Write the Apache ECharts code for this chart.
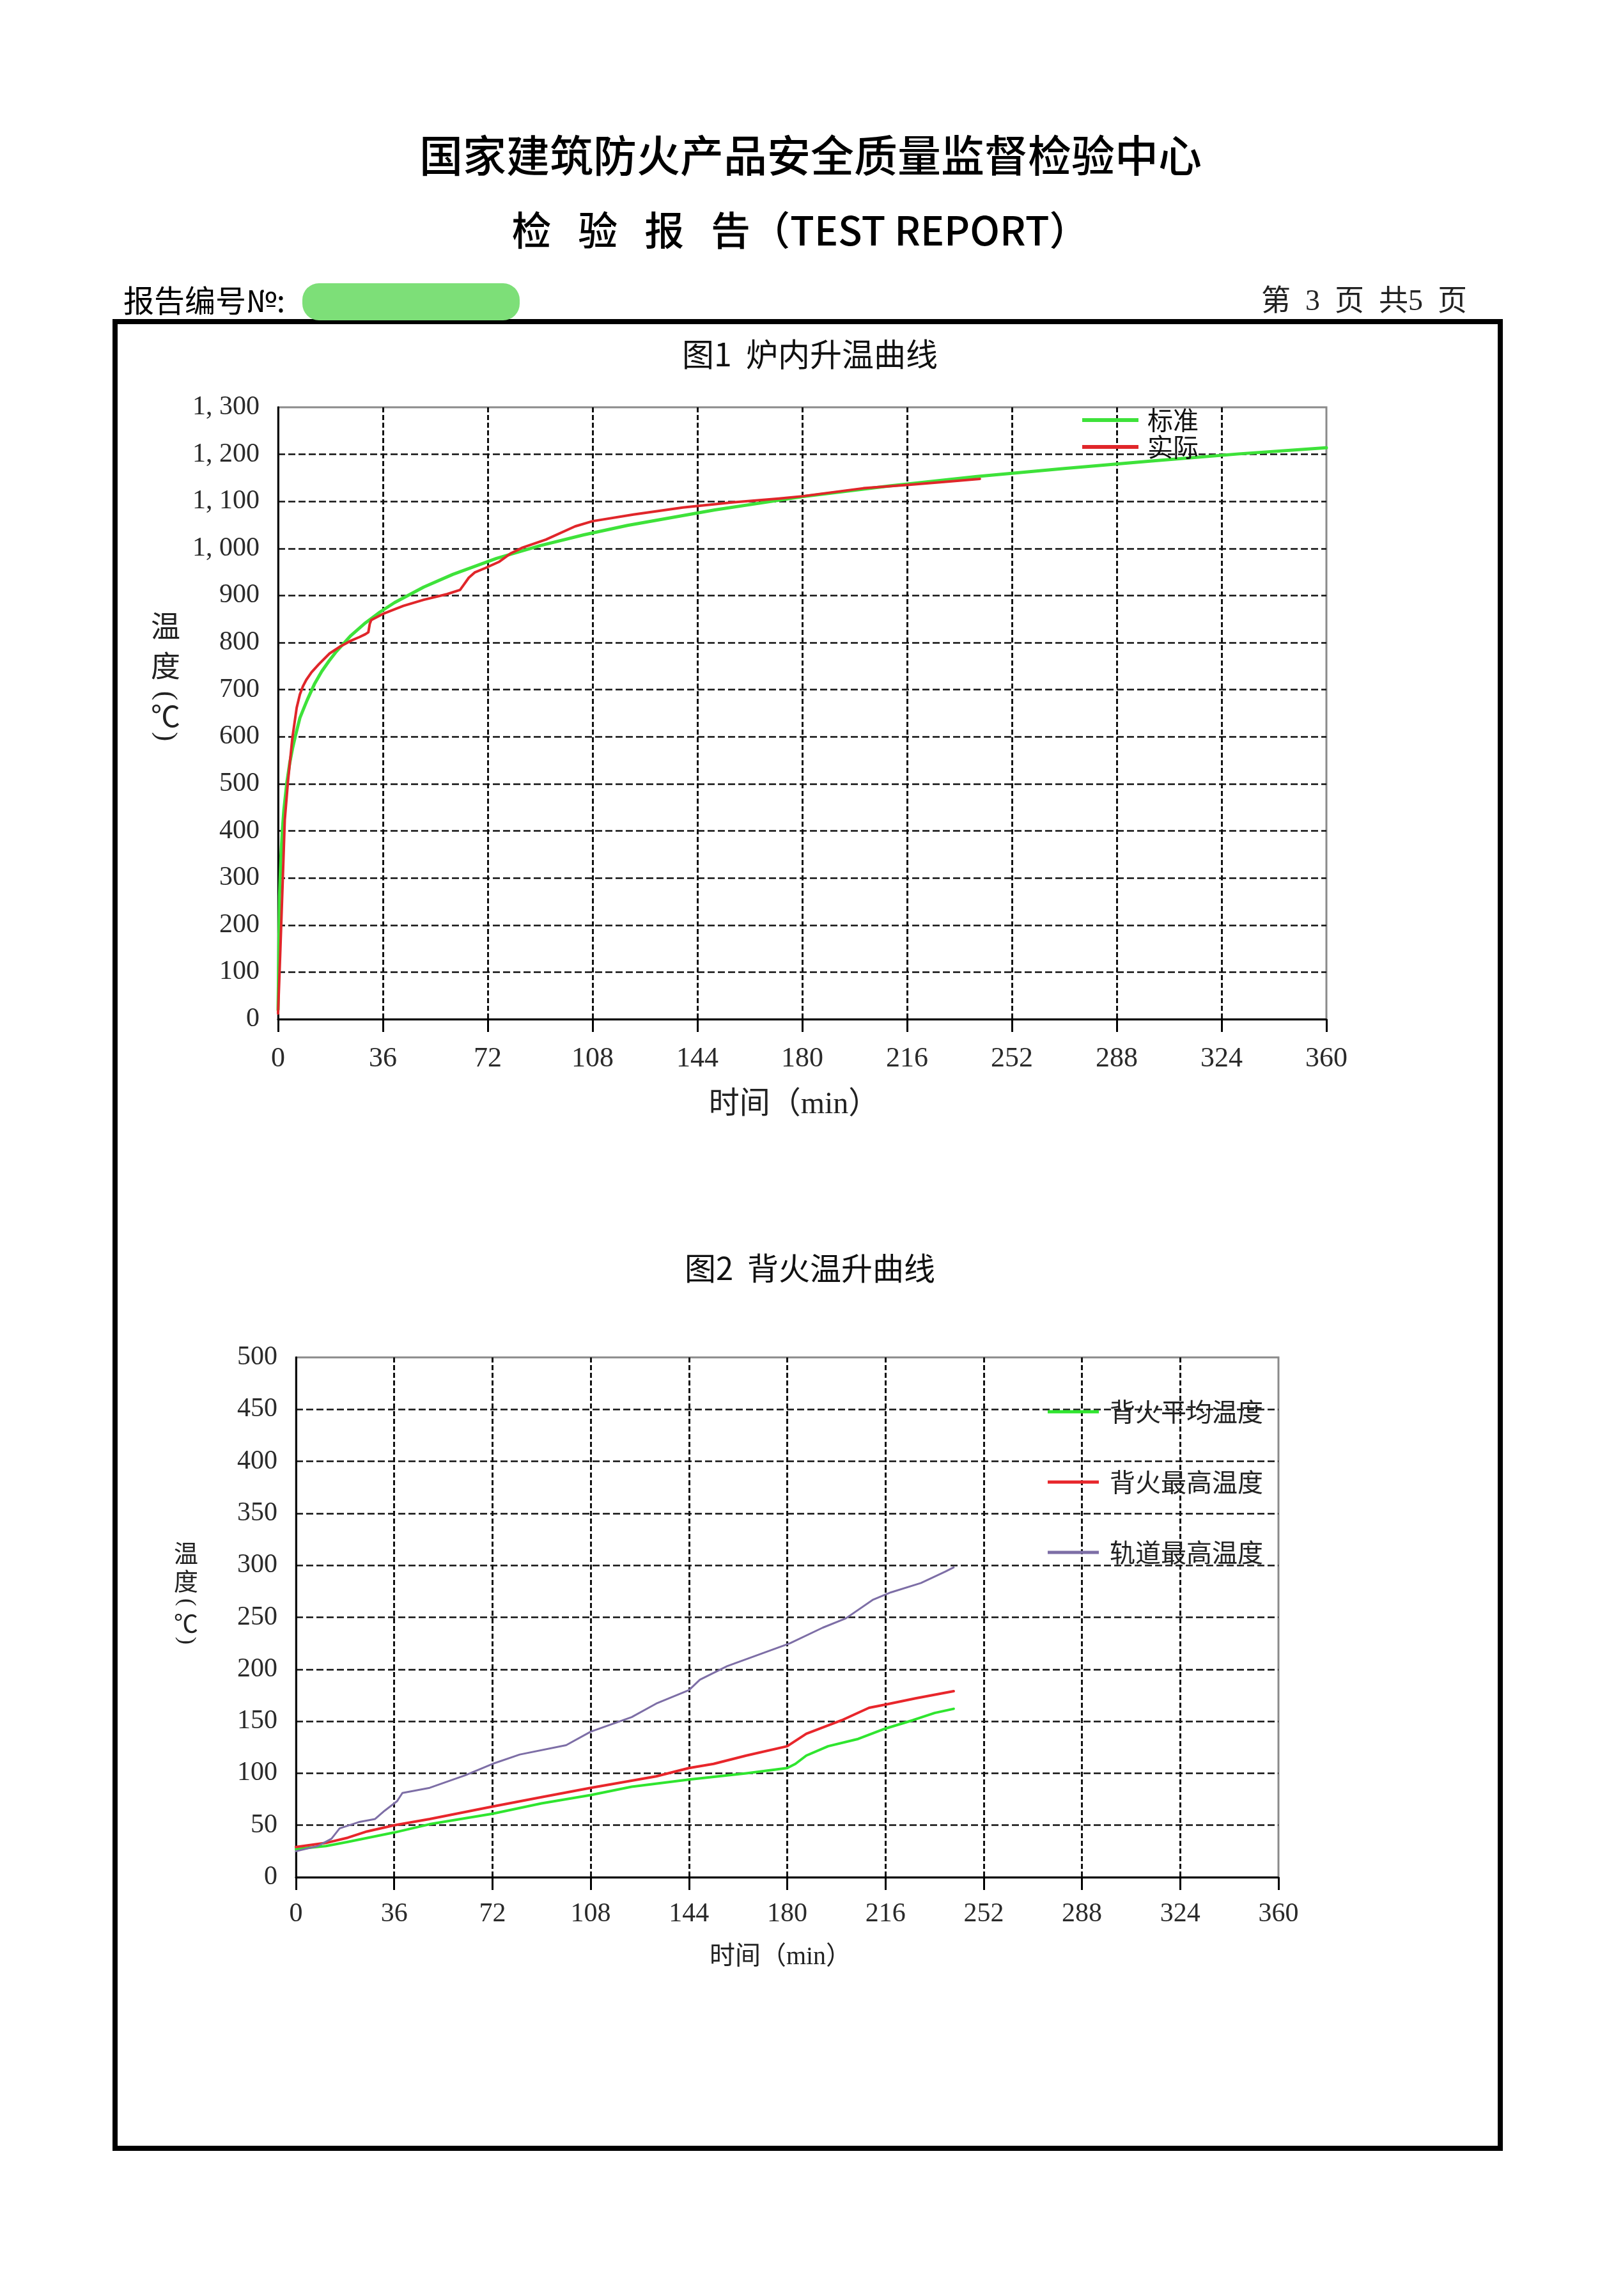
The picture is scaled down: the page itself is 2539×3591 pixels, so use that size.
<!DOCTYPE html>
<html><head><meta charset="utf-8">
<script src="https://cdn.jsdelivr.net/npm/echarts@6/dist/echarts.min.js"></script>
<style>html,body{margin:0;padding:0;background:#fff}#c{width:2539px;height:3591px}</style>
</head><body><div id="c"></div>
<script>
// ---------- Figure 1: furnace temperature (min, °C) ----------
const fig1StdTime = [0, 0.5, 1, 1.5, 2, 3, 4, 5, 6, 7.5, 9, 10, 12.5, 15, 17.5, 20, 25, 30, 35, 40, 50, 60, 75, 90, 105, 120, 150, 180, 210, 240, 270, 300, 330, 360];
const fig1StdTemp = [20, 261, 349, 404, 445, 502, 544, 576, 603, 640, 663, 678, 712, 739, 761, 781, 815, 842, 865, 885, 918, 945, 979, 1006, 1029, 1049, 1082, 1110, 1133, 1153, 1170, 1186, 1201, 1214];
const fig1ActTime = [0, 0.8, 1.6, 2.3, 3.4, 4.9, 6.4, 7.5, 8.6, 9.7, 11.5, 14, 17.7, 21.4, 25, 28, 30, 31, 31.5, 32, 36, 43, 50, 58, 62.5, 64, 65.5, 67.5, 71, 76, 80, 84, 92, 102, 108, 122, 139, 156, 172, 180, 201, 216, 230, 241];
const fig1ActTemp = [12, 150, 294, 423, 505, 597, 662, 690, 708, 721, 737, 754, 777, 792, 804, 812, 818, 822, 840, 848, 861, 878, 891, 903, 912, 925, 938, 949, 958, 972, 990, 1002, 1019, 1047, 1058, 1072, 1087, 1098, 1106, 1111, 1128, 1135, 1142, 1148];
const fig1Names = ['标准', '实际'];

// ---------- Figure 2: unexposed-side temperature (min, °C) ----------
const fig2AvgTime = [0, 11, 19, 36, 49, 72, 90, 108, 123, 144, 165, 180, 183, 187, 195, 206, 216, 226, 234, 241];
const fig2AvgTemp = [27, 30, 34, 43, 51, 61, 71, 79, 87, 94, 100, 105, 109, 117, 126, 133, 143, 151, 158, 162];
const fig2MaxTime = [0, 11, 19, 26, 36, 49, 72, 90, 108, 132, 144, 153, 165, 180, 187, 200, 210, 216, 227, 241];
const fig2MaxTemp = [29, 33, 38, 44, 50, 56, 68, 77, 86, 97, 105, 109, 117, 126, 138, 151, 163, 166, 172, 179];
const fig2RailTime = [0, 8, 13, 16, 23, 29, 32.5, 37, 39, 49, 62, 72, 82, 99, 108, 123, 132, 144, 148, 158, 181, 193, 201.5, 211.5, 218, 229, 238, 241];
const fig2RailTemp = [25, 30, 37, 47, 53, 56, 64, 73, 81, 86, 98, 109, 118, 127, 140, 154, 167, 180, 190, 203, 225, 240, 249, 267, 274, 283, 294, 298];
const fig2Names = ['背火平均温度', '背火最高温度', '轨道最高温度'];

// axis ranges
const xMin = 0, xMax = 360, xStep = 36;
const y1Min = 0, y1Max = 1300, y1Step = 100;
const y2Min = 0, y2Max = 500, y2Step = 50;

const zip = (a, b) => a.map((v, i) => [v, b[i]]);
const SERIF = '"Liberation Serif","Noto Sans CJK SC",serif';
const SANS = '"Noto Sans CJK SC",sans-serif';

function xAxisCfg(grid, fs, margin) {
  return {
    type: 'value', gridIndex: grid, min: xMin, max: xMax, interval: xStep,
    axisLine: { show: true, onZero: false, lineStyle: { color: '#000', width: 3 } },
    axisTick: { show: true, length: 20, lineStyle: { color: '#000', width: 3 } },
    axisLabel: { margin: margin, fontSize: fs, fontFamily: SERIF, color: '#2a2a2a' },
    splitLine: { show: true, showMinLine: false, showMaxLine: false, lineStyle: { type: [8, 4], color: '#111', width: 3 } }
  };
}
function yAxisCfg(grid, min, max, step, fs, fmt) {
  return {
    type: 'value', gridIndex: grid, min: min, max: max, interval: step,
    axisLine: { show: true, onZero: false, lineStyle: { color: '#000', width: 3 } },
    axisTick: { show: false },
    axisLabel: { margin: 29, fontSize: fs, fontFamily: SERIF, color: '#2a2a2a', formatter: fmt },
    splitLine: { show: true, showMinLine: false, showMaxLine: false, lineStyle: { type: [11, 5], color: '#111', width: 2.5 } }
  };
}
const fmtThousands = v => v >= 1000 ? Math.floor(v / 1000) + ', ' + String(v % 1000).padStart(3, '0') : String(v);

function txt(text, x, y, fs, opts) {
  opts = opts || {};
  return {
    type: 'text', x: x, y: y, z: 10, rotation: opts.rotation || 0,
    style: {
      text: text, fill: opts.color || '#111',
      font: (opts.weight || 'normal') + ' ' + fs + 'px ' + (opts.family || SANS),
      align: opts.align || 'center', verticalAlign: 'middle',
      textAlign: opts.align || 'center', textVerticalAlign: 'middle'
    }
  };
}
const ROT = -Math.PI / 2;

const graphics = [
  // page frame
  { type: 'rect', shape: { x: 180, y: 503, width: 2167, height: 2857 }, style: { fill: 'none', stroke: '#000', lineWidth: 8 }, z: 1 },
  // redaction blob
  { type: 'rect', shape: { x: 473, y: 443, width: 340, height: 58, r: 26 }, style: { fill: '#7ddf78' }, z: 2 },
  txt('国家建筑防火产品安全质量监督检验中心', 1268, 243, 68, { weight: 500, color: '#000' }),
  txt('检   验   报   告（TEST REPORT）', 1252, 360, 62, { weight: 500, color: '#000' }),
  txt('报告编号№:', 193, 470, 48, { align: 'left', color: '#000' }),
  txt('第  3  页  共5  页', 2295, 473, 46, { align: 'right', family: SERIF, color: '#222' }),
  txt('图1  炉内升温曲线', 1267, 554, 50),
  txt('图2  背火温升曲线', 1267, 1983, 49),
  // axis names fig 1
  txt('时间（min）', 1242, 1728, 48, { family: SERIF, color: '#222' }),
  txt('温', 259, 979, 46, { color: '#222' }),
  txt('度', 259, 1041, 46, { color: '#222' }),
  txt('(', 259, 1088, 44, { color: '#222', family: SERIF, rotation: ROT }),
  txt('℃', 259, 1120, 46, { color: '#222' }),
  txt(')', 259, 1152, 44, { color: '#222', family: SERIF, rotation: ROT }),
  // axis names fig 2
  txt('时间（min）', 1221, 3061, 40, { family: SERIF, color: '#222' }),
  txt('温', 291, 2429, 38, { color: '#222' }),
  txt('度', 291, 2473, 38, { color: '#222' }),
  txt('(', 291, 2506, 36, { color: '#222', family: SERIF, rotation: ROT }),
  txt('℃', 291, 2539, 38, { color: '#222' }),
  txt(')', 291, 2566, 36, { color: '#222', family: SERIF, rotation: ROT })
];

const lineSeries = (name, xi, data, color, width) => ({
  name: name, type: 'line', xAxisIndex: xi, yAxisIndex: xi, data: data,
  showSymbol: false, symbol: 'none', smooth: false,
  lineStyle: { color: color, width: width, join: 'round', cap: 'round' }, itemStyle: { color: color }
});

const option = {
  animation: false,
  backgroundColor: '#fff',
  grid: [
    { left: 435, top: 637, width: 1640, height: 957, show: true, borderColor: '#8a8a8a', borderWidth: 3, backgroundColor: 'transparent' },
    { left: 463, top: 2123, width: 1537, height: 813, show: true, borderColor: '#8a8a8a', borderWidth: 3, backgroundColor: 'transparent' }
  ],
  xAxis: [xAxisCfg(0, 44, 40), xAxisCfg(1, 42, 37)],
  yAxis: [
    yAxisCfg(0, y1Min, y1Max, y1Step, 42, fmtThousands),
    yAxisCfg(1, y2Min, y2Max, y2Step, 42, v => String(v))
  ],
  legend: [
    {
      data: fig1Names, orient: 'vertical', left: 1693, top: 637, padding: 0,
      itemWidth: 88, itemHeight: 6, itemGap: 2, icon: 'rect',
      textStyle: { fontSize: 40, fontFamily: SANS, color: '#111', padding: [0, 0, 0, 9], lineHeight: 40 }
    },
    {
      data: fig2Names, orient: 'vertical', left: 1639, top: 2188, padding: 0,
      itemWidth: 80, itemHeight: 5, itemGap: 70, icon: 'rect',
      textStyle: { fontSize: 40, fontFamily: SANS, color: '#222', padding: [0, 0, 0, 12], lineHeight: 40 }
    }
  ],
  series: [
    lineSeries(fig1Names[0], 0, zip(fig1StdTime, fig1StdTemp), '#3ee23a', 5),
    lineSeries(fig1Names[1], 0, zip(fig1ActTime, fig1ActTemp), '#e0262a', 4),
    lineSeries(fig2Names[0], 1, zip(fig2AvgTime, fig2AvgTemp), '#2fe52f', 4),
    lineSeries(fig2Names[1], 1, zip(fig2MaxTime, fig2MaxTemp), '#e8262b', 4),
    lineSeries(fig2Names[2], 1, zip(fig2RailTime, fig2RailTemp), '#7d6ea6', 3)
  ],
  graphic: graphics
};

const chart = echarts.init(document.getElementById('c'), null, { renderer: 'canvas' });
chart.setOption(option);
</script>
</body></html>
